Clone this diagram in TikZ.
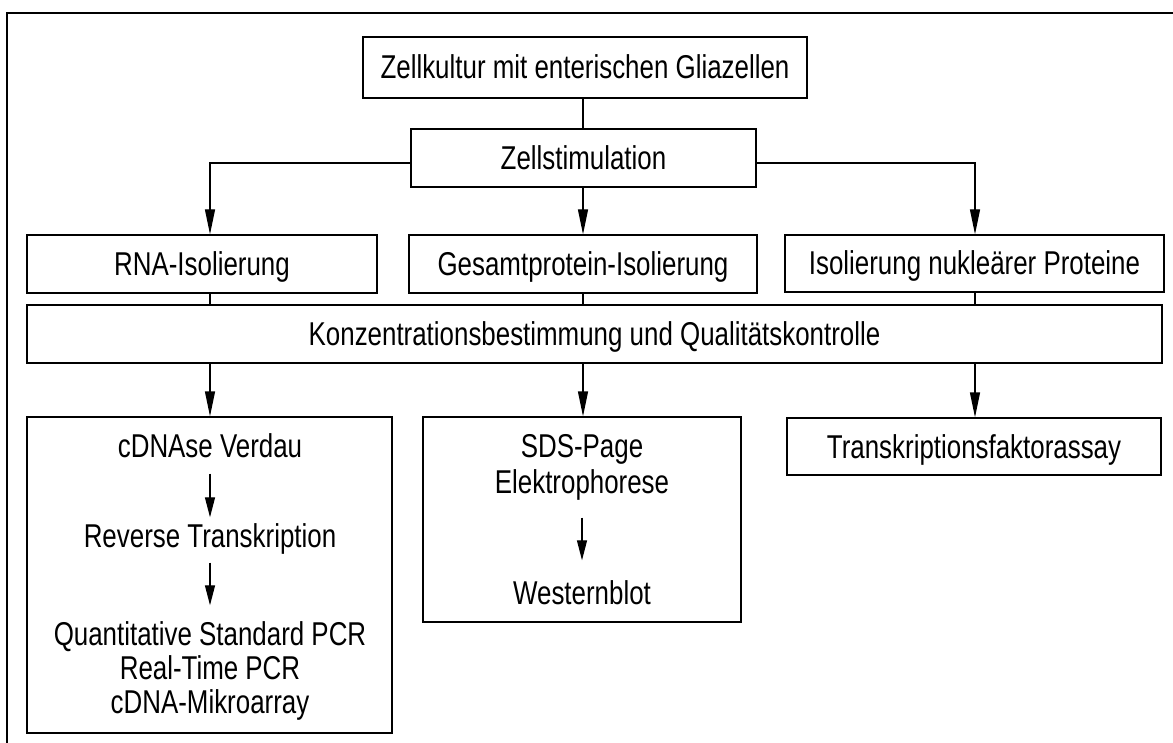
\documentclass[tikz,border=0pt]{standalone}
\usepackage{fontspec}
\setmainfont{Liberation Sans}[FakeStretch=0.785]
\usetikzlibrary{arrows.meta}
\tikzset{
  box/.style={draw, line width=1.3pt, inner sep=0pt, text height=23pt, text depth=0pt},
  txt/.style={inner sep=0pt, text height=23pt, text depth=0pt},
  pfeil/.style={-{Triangle[length=25pt,width=10pt]}, line width=1.3pt},
  kpfeil/.style={-{Triangle[length=20pt,width=10pt]}, line width=1.3pt},
}
\begin{document}
\begin{tikzpicture}[x=1pt,y=-1pt,line join=miter,font=\fontsize{33}{34}\selectfont]
  \useasboundingbox (0,0) rectangle (1173,743);
  \draw[line width=1.6pt] (7,743) -- (7,13) -- (1173,13);

  \coordinate (spA) at (210,0);
  \coordinate (spB) at (583,0);
  \coordinate (spC) at (975,0);

  \node[box, minimum width=444pt, minimum height=61pt] (kultur) at (585,67.5) {Zellkultur mit enterischen Gliazellen};
  \node[box, minimum width=345pt, minimum height=58pt] (stim) at (583.5,158) {Zellstimulation};
  \node[box, minimum width=350pt, minimum height=58pt] (rna) at (202,264) {RNA-Isolierung};
  \node[box, minimum width=348pt, minimum height=58pt] (ges) at (583,264) {Gesamtprotein-Isolierung};
  \node[box, minimum width=379pt, minimum height=57pt] (iso) at (974.5,263.5) {Isolierung nukleärer Proteine};
  \node[box, minimum width=1135pt, minimum height=58pt] (konz) at (594.5,334) {Konzentrationsbestimmung und Qualitätskontrolle};
  \node[box, minimum width=365pt, minimum height=316pt] (pcr) at (209.5,575) {};
  \node[box, minimum width=318pt, minimum height=205pt] (sds) at (582,519.5) {};
  \node[box, minimum width=374pt, minimum height=57pt] (tf) at (974,446.5) {Transkriptionsfaktorassay};

  % RNA-Zweig
  \node[txt] (verdau) at (210,446) {cDNAse Verdau};
  \node[txt] (revtr) at (210,536) {Reverse Transkription};
  \node[txt] (qpcr) at (210,634) {Quantitative Standard PCR};
  \node[txt] (rtpcr) at (210,668) {Real-Time PCR};
  \node[txt] (array) at (210,702) {cDNA-Mikroarray};
  \draw[kpfeil, shorten <=16pt, shorten >=7pt] (verdau.south) -- (revtr.north);
  \draw[kpfeil, shorten <=15pt, shorten >=17pt] (revtr.south) -- (qpcr.north);

  % Protein-Zweig
  \node[txt] (page) at (582,446) {SDS-Page};
  \node[txt] (elektro) at (582,482) {Elektrophorese};
  \node[txt] (western) at (582,593) {Westernblot};
  \draw[kpfeil, shorten <=24pt, shorten >=21pt] (elektro.south) -- (western.north);

  \draw[line width=1.3pt] (spB |- kultur.south) -- (spB |- stim.north);
  \draw[pfeil] ([yshift=-5pt]stim.west) -| (spA |- rna.north);
  \draw[pfeil] (spB |- stim.south) -- (spB |- ges.north);
  \draw[pfeil] ([yshift=-5pt]stim.east) -| (spC |- iso.north);

  \draw[line width=1.3pt] (spA |- rna.south) -- (spA |- konz.north);
  \draw[line width=1.3pt] (spB |- ges.south) -- (spB |- konz.north);
  \draw[line width=1.3pt] (spC |- iso.south) -- (spC |- konz.north);

  \draw[pfeil] (spA |- konz.south) -- (spA |- pcr.north);
  \draw[pfeil] (spB |- konz.south) -- (spB |- sds.north);
  \draw[pfeil] (spC |- konz.south) -- (spC |- tf.north);
\end{tikzpicture}
\end{document}
